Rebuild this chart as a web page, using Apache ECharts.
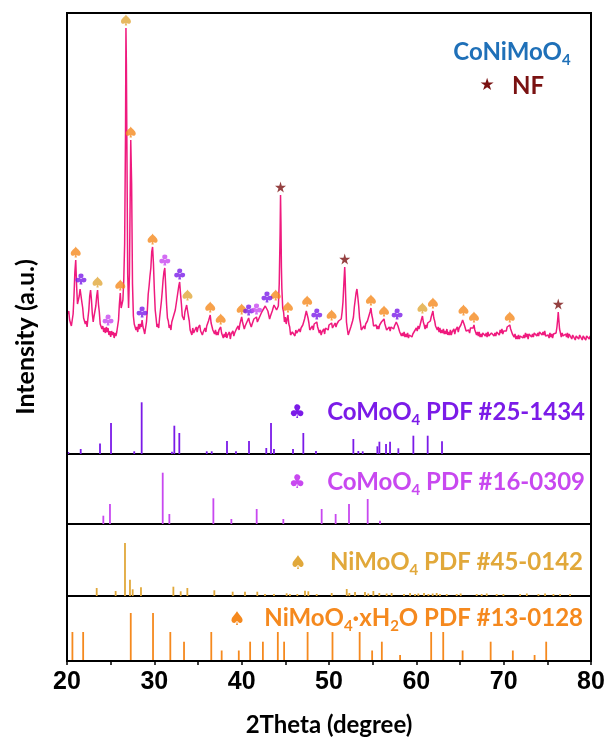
<!DOCTYPE html>
<html><head><meta charset="utf-8">
<script src="https://cdn.jsdelivr.net/npm/echarts@6/dist/echarts.min.js"></script>
<style>html,body{margin:0;padding:0;background:#fff}#c{width:609px;height:744px}</style>
</head><body><div id="c"></div>
<script>
// XRD pattern of CoNiMoO4 on NF: [2theta, intensity a.u.]
const xrdPattern = [
[20.0,76],[20.1,70],[20.2,73],[20.3,64],[20.4,66],[20.5,58],[20.6,64],[20.7,70],[20.8,88],[20.9,112],[21.0,124],[21.1,98],[21.2,80],[21.3,84],[21.4,88],[21.5,95],[21.6,97],[21.7,82],[21.8,76],[21.9,66],[22.0,68],[22.1,60],[22.2,63],[22.3,57],[22.4,66],[22.5,74],[22.6,88],[22.7,94],[22.8,84],[22.9,70],[23.0,62],[23.1,68],[23.2,66],[23.3,78],[23.4,88],[23.5,94],[23.6,80],[23.7,72],[23.8,60],[23.9,62],[24.0,55],[24.1,58],[24.2,52],[24.3,56],[24.4,51],[24.5,57],[24.6,52],[24.7,56],[24.8,49],[24.9,53],[25.0,47],[25.1,53],[25.2,49],[25.3,52],[25.4,46],[25.5,51],[25.6,48],[25.7,52],[25.8,54],[25.9,64],[26.0,80],[26.1,91],[26.2,76],[26.3,74],[26.4,84],[26.5,104],[26.6,140],[26.7,250],[26.75,356],[26.8,320],[26.85,250],[26.95,110],[27.05,76],[27.15,110],[27.25,200],[27.3,244],[27.4,200],[27.5,100],
[27.6,68],[27.7,60],[27.8,58],[27.9,54],[28.0,57],[28.1,52],[28.2,60],[28.3,55],[28.4,60],[28.5,57],[28.6,64],[28.7,57],[28.8,54],[28.9,50],[29.0,56],[29.1,62],[29.2,74],[29.3,90],[29.4,98],[29.5,108],[29.6,116],[29.7,132],[29.8,137],[29.9,120],[30.0,94],[30.1,74],[30.2,66],[30.3,57],[30.4,60],[30.5,56],[30.6,66],[30.7,68],[30.8,82],[30.9,92],[31.0,104],[31.1,112],[31.2,116],[31.3,98],[31.4,80],[31.5,66],[31.6,63],[31.7,56],[31.8,59],[31.9,54],[32.0,62],[32.1,60],[32.2,68],[32.3,66],[32.4,74],[32.5,76],[32.6,86],[32.7,92],[32.8,98],[32.9,102],[33.0,90],[33.1,80],[33.2,68],[33.3,66],[33.4,64],[33.5,72],[33.6,72],[33.7,79],[33.8,81],[33.9,68],[34.0,63],[34.1,54],[34.2,54],[34.3,49],[34.4,56],[34.5,51],[34.6,53],[34.7,49],[34.8,57],[34.9,52],[35.0,56],[35.1,54],[35.2,59],[35.3,53],[35.4,55],[35.5,49],[35.6,52],[35.7,50],[35.8,56],[35.9,52],[36.0,58],[36.1,56],[36.2,63],[36.3,64],[36.4,69],[36.5,61],[36.6,60],[36.7,54],[36.8,56],[36.9,50],[37.0,54],[37.1,49],[37.2,52],[37.3,49],[37.4,54],[37.5,53],[37.6,57],[37.7,51],[37.8,52],[37.9,46],[38.0,50],[38.1,47],[38.2,52],[38.3,46],[38.4,49],[38.5,47],[38.6,52],[38.7,45],[38.8,50],[38.9,49],[39.0,53],[39.1,48],[39.2,51],[39.3,49],[39.4,55],[39.5,53],[39.6,58],[39.7,54],[39.8,60],[39.9,62],[40.0,67],[40.1,62],[40.2,61],[40.3,55],[40.4,58],[40.5,56],[40.6,62],[40.7,61],[40.8,66],[40.9,62],[41.0,63],[41.1,57],[41.2,60],[41.3,59],[41.4,65],[41.5,63],[41.6,67],[41.7,67],[41.8,62],[41.9,64],[42.0,61],[42.1,68],[42.2,66],[42.3,72],[42.4,70],[42.5,75],[42.6,73],[42.7,78],[42.8,76],[42.9,79],[43.0,73],[43.1,71],[43.2,65],[43.3,68],[43.4,67],[43.5,73],[43.6,74],[43.7,79],[43.8,78],[43.9,81],[44.0,74],[44.1,73],[44.2,78],[44.3,100],[44.4,150],[44.45,189],[44.5,160],[44.55,117],[44.6,96],[44.7,76],[44.8,72],[44.9,62],[45.0,67],[45.1,60],[45.2,65],[45.3,69],[45.4,60],[45.5,57],[45.6,49],[45.7,47],[45.8,52],[45.9,50],[46.0,51],[46.1,48],[46.2,54],[46.3,51],[46.4,52],[46.5,49],[46.6,55],[46.7,52],[46.8,56],[46.9,54],[47.0,59],[47.1,58],[47.2,65],[47.3,67],[47.4,73],[47.5,75],[47.6,66],[47.7,61],[47.8,54],[47.9,56],[48.0,53],[48.1,58],[48.2,54],[48.3,60],[48.4,58],[48.5,62],[48.6,62],[48.7,57],[48.8,57],[48.9,51],[49.0,54],[49.1,49],[49.2,52],[49.3,50],[49.4,55],[49.5,50],[49.6,56],[49.7,54],[49.8,56],[49.9,54],[50.0,59],[50.1,57],[50.2,61],[50.3,61],[50.4,56],[50.5,58],[50.6,56],[50.7,61],[50.8,57],[50.9,60],[51.0,58],[51.1,63],[51.2,61],[51.3,65],[51.4,65],[51.5,72],[51.6,82],[51.7,100],[51.8,117],[51.85,106],[51.9,90],[52.0,62],[52.1,55],[52.2,49],[52.3,51],[52.4,50],[52.5,57],[52.6,56],[52.7,63],[52.8,67],[52.9,77],[53.0,84],[53.1,91],[53.2,95],[53.3,87],[53.4,78],[53.5,66],[53.6,61],[53.7,54],[53.8,56],[53.9,53],[54.0,58],[54.1,55],[54.2,60],[54.3,58],[54.4,63],[54.5,63],[54.6,69],[54.7,72],[54.8,76],[54.9,69],[55.0,65],[55.1,58],[55.2,60],[55.3,56],[55.4,59],[55.5,55],[55.6,58],[55.7,55],[55.8,59],[55.9,58],[56.0,62],[56.1,60],[56.2,64],[56.3,65],[56.4,60],[56.5,59],[56.6,54],[56.7,56],[56.8,53],[56.9,57],[57.0,53],[57.1,57],[57.2,55],[57.3,59],[57.4,55],[57.5,58],[57.6,58],[57.7,62],[57.8,62],[57.9,58],[58.0,57],[58.1,52],[58.2,54],[58.3,48],[58.4,51],[58.5,48],[58.6,52],[58.7,47],[58.8,50],[58.9,47],[59.0,51],[59.1,46],[59.2,49],[59.3,47],[59.4,51],[59.5,47],[59.6,50],[59.7,50],[59.8,53],[59.9,51],[60.0,56],[60.1,53],[60.2,58],[60.3,55],[60.4,58],[60.5,59],[60.6,65],[60.7,68],[60.8,62],[60.9,59],[61.0,55],[61.1,59],[61.2,56],[61.3,61],[61.4,59],[61.5,63],[61.6,63],[61.7,67],[61.8,69],[61.9,73],[62.0,66],[62.1,63],[62.2,58],[62.3,60],[62.4,54],[62.5,57],[62.6,52],[62.7,56],[62.8,51],[62.9,54],[63.0,51],[63.1,55],[63.2,50],[63.3,53],[63.4,50],[63.5,55],[63.6,49],[63.7,52],[63.8,49],[63.9,54],[64.0,49],[64.1,52],[64.2,51],[64.3,55],[64.4,50],[64.5,54],[64.6,52],[64.7,57],[64.8,52],[64.9,56],[65.0,55],[65.1,59],[65.2,60],[65.3,64],[65.4,66],[65.5,59],[65.6,57],[65.7,53],[65.8,55],[65.9,51],[66.0,54],[66.1,51],[66.2,56],[66.3,54],[66.4,57],[66.5,56],[66.6,59],[66.7,54],[66.8,53],[66.9,49],[67.0,52],[67.1,48],[67.2,52],[67.3,47],[67.4,50],[67.5,47],[67.6,51],[67.7,49],[67.8,53],[67.9,48],[68.0,51],[68.1,47],[68.2,52],[68.3,48],[68.4,50],[68.5,46],[68.6,51],[68.7,49],[68.8,53],[68.9,48],[69.0,51],[69.1,48],[69.2,52],[69.3,50],[69.4,53],[69.5,49],[69.6,54],[69.7,51],[69.8,55],[69.9,50],[70.0,53],[70.1,51],[70.2,55],[70.3,53],[70.4,57],[70.5,55],[70.6,58],[70.7,59],[70.8,55],[70.9,55],[71.0,50],[71.1,52],[71.2,47],[71.3,50],[71.4,45],[71.5,48],[71.6,45],[71.7,49],[71.8,45],[71.9,48],[72.0,46],[72.1,50],[72.2,46],[72.3,49],[72.4,46],[72.5,51],[72.6,47],[72.7,50],[72.8,45],[72.9,50],[73.0,48],[73.1,52],[73.2,47],[73.3,50],[73.4,47],[73.5,51],[73.6,49],[73.7,53],[73.8,48],[73.9,51],[74.0,48],[74.1,52],[74.2,50],[74.3,54],[74.4,49],[74.5,52],[74.6,49],[74.7,53],[74.8,48],[74.9,50],[75.0,46],[75.1,49],[75.2,46],[75.3,51],[75.4,47],[75.5,50],[75.6,46],[75.7,50],[75.8,48],[75.9,52],[76.0,51],[76.1,57],[76.2,66],[76.25,72],[76.3,66],[76.4,55],[76.5,51],[76.6,47],[76.7,51],[76.8,48],[76.9,50],[77.0,46],[77.1,50],[77.2,47],[77.3,51],[77.4,46],[77.5,50],[77.6,49],[77.7,51],[77.8,45],[77.9,49],[78.0,48],[78.1,50],[78.2,44],[78.3,48],[78.4,46],[78.5,50],[78.6,45],[78.7,49],[78.8,47],[78.9,50],[79.0,44],[79.1,48],[79.2,46],[79.3,49],[79.4,44],[79.5,48],[79.6,46],[79.7,49],[79.8,45],[79.9,48],[80.0,46]
];

// Peak markers [2theta, peak intensity]
const spadeNiMoO4Hydrate = [[21.0,124],[26.1,91],[27.3,244],[29.8,137],[36.4,69],[37.6,57],[40.0,67],[43.9,81],[45.3,69],[47.5,75],[50.3,61],[54.8,76],[56.3,65],[61.9,73],[65.4,66],[66.6,59],[70.7,59]];
const spadeNiMoO4 = [[23.5,94],[26.75,356],[33.8,81],[60.7,68]];
const clubCoMoO4_25 = [[21.6,97],[28.6,64],[32.9,102],[40.8,66],[42.9,79],[48.6,62],[57.8,62]];
const clubCoMoO4_16 = [[24.7,56],[31.2,116],[41.7,67]];
const starNF = [[44.45,189],[51.8,117],[76.25,72]];

// Standard PDF cards: positions (2theta) and relative intensities
const pdf25_1434_pos = [20.15,21.57,23.78,25.04,27.70,28.55,32.02,32.29,32.86,36.00,36.57,38.32,39.35,40.84,42.82,43.36,43.70,45.88,47.06,48.51,52.79,53.36,53.86,55.54,55.77,56.53,56.99,57.94,59.66,61.30,62.94];
const pdf25_1434_int = [2,5,10.5,31,2.7,51.7,2.3,28.3,21,2.7,2.7,13,2.7,13,6,31,5,5,21,3,15,3,2.7,7.7,12.3,10,12.3,5.7,18.3,18.3,12.7];
const pdf16_0309_pos = [24.16,24.92,30.96,31.72,36.76,38.82,41.72,44.77,49.16,50.76,52.29,54.43,55.84];
const pdf16_0309_int = [8.3,20,51.3,10,25.7,5,15,5,15,10,20,25,3.3];
const pdf45_0142_pos = [23.40,25.57,26.64,27.21,27.52,28.47,32.18,33.02,33.78,36.87,38.97,40.38,41.79,42.67,43.70,45.15,45.53,46.37,47.25,47.63,48.59,50.31,52.03,52.33,52.98,54.12,54.50,55.08,55.76,56.60,57.17,58.59,59.28,59.85,60.23,60.88,61.38,61.87,62.33,62.71,63.48,64.62,65.08,66.91,67.48,68.06,69.20,69.97,71.88,72.65,73.98,74.74,75.70,76.46,77.60];
const pdf45_0142_int = [8,5,53,16.3,6.7,8.7,9.3,4.7,8,5.7,4.3,4.3,4.3,2,2,2.7,2,2,5.3,4.7,2,3,7,3,4,4,2.5,5,3,2.5,3,2,3,2,2.5,3,2,2.5,3,2,2,2,2.5,2,2,2.5,2,2,2,2.5,2,2.5,2,2,2];
const pdf13_0128_pos = [20.62,21.85,27.30,29.85,31.83,33.40,36.52,37.71,39.67,40.97,42.43,44.14,44.86,47.55,50.40,53.51,54.94,56.05,58.14,61.70,63.08,65.30,68.51,71.05,73.54,74.87];
const pdf13_0128_int = [29,29,48,48,29,19.3,29,10.5,10.5,19.3,19.3,29,19.3,29,29,29,10.5,19.3,6,29,29,10.5,19.3,10.5,6,19.3];

const xTicks = [20,30,40,50,60,70,80];

const C_ORANGE = '#F5891E', C_GOLD = '#E1A83A', C_PURPLE = '#7B1BE8', C_LILAC = '#C848F0', C_STAR = '#7A1212', C_LINE = '#EF1A7E', C_BLUE = '#1F70B8';
const SPADE = 'path://M50 0 C38 22 0 38 0 64 C0 84 24 92 44 78 L38 100 L62 100 L56 78 C76 92 100 84 100 64 C100 38 62 22 50 0 Z';
const CLUB = 'path://M50 4 A21 21 0 1 1 49.9 4 Z M26 40 A21 21 0 1 1 25.9 40 Z M74 40 A21 21 0 1 1 73.9 40 Z M46 50 L54 50 L62 100 L38 100 Z';
const STAR = 'path://M50 0 L61 35 L98 35 L68 57 L79 91 L50 70 L21 91 L32 57 L2 35 L39 35 Z';

const pair = (p, v) => p.map((x, i) => [x, v[i]]);
function stick(color) {
  return function (params, api) {
    const x = api.value(0), h = api.value(1);
    const a = api.coord([x, 0]), b = api.coord([x, h]);
    return { type: 'line', shape: { x1: a[0], y1: a[1], x2: b[0], y2: b[1] }, style: { stroke: color, lineWidth: 1.8 } };
  };
}

const L = 67, R = 18;
const grids = [
  { left: L, right: R, top: 13, height: 371 },
  { left: L, right: R, top: 384, height: 70 },
  { left: L, right: R, top: 454, height: 70 },
  { left: L, right: R, top: 524, height: 72 },
  { left: L, right: R, top: 596, height: 65 }
];
const yMax = [371, 70, 70, 72, 65];
const xAxes = grids.map((g, i) => ({
  gridIndex: i, type: 'value', min: 20, max: 80, interval: 5,
  splitLine: { show: false },
  axisLine: { show: i > 0, onZero: false, lineStyle: { color: '#000', width: 2 } },
  axisTick: { show: i === 4, length: 4, lineStyle: { color: '#000', width: 1.5 } },
  axisLabel: {
    show: i === 4, margin: 9, color: '#000', fontSize: 25, fontWeight: 'bold', fontFamily: 'Liberation Sans',
    formatter: v => (xTicks.indexOf(v) >= 0 ? String(v) : '')
  }
}));
const yAxes = grids.map((g, i) => ({ gridIndex: i, type: 'value', min: 0, max: yMax[i], show: false }));

function markers(data, sym, size, color) {
  return { type: 'scatter', xAxisIndex: 0, yAxisIndex: 0, data: data, symbol: sym, symbolSize: size,
    symbolOffset: [0, -8], itemStyle: { color: color }, z: 5, silent: true };
}

const subRich = (color, fs) => ({
  m: { fontSize: fs, fontWeight: 'bold', fill: color, fontFamily: 'Lato', lineHeight: 28, verticalAlign: 'top' },
  s: { fontSize: Math.round(fs * 0.62), fontWeight: 'bold', fill: color, fontFamily: 'Lato', verticalAlign: 'bottom' }
});
function label(text, color, x, y, fs) {
  return { type: 'text', x: x, y: y + 2, style: { text: text, align: 'right', verticalAlign: 'middle', rich: subRich(color, fs) }, z: 10 };
}
function glyph(ch, color, x, y, fs) {
  return { type: 'text', x: x, y: y, style: { text: ch, align: 'center', verticalAlign: 'middle', fontSize: fs, fontFamily: 'DejaVu Sans', fill: color }, z: 10 };
}

const option = {
  animation: false,
  backgroundColor: '#fff',
  grid: grids, xAxis: xAxes, yAxis: yAxes,
  series: [
    { type: 'line', xAxisIndex: 0, yAxisIndex: 0, data: xrdPattern, showSymbol: false, symbol: 'none',
      lineStyle: { color: C_LINE, width: 1.5 }, z: 3 },
    markers(spadeNiMoO4Hydrate, SPADE, [10, 11], C_ORANGE),
    markers(spadeNiMoO4, SPADE, [10, 11], C_GOLD),
    markers(clubCoMoO4_25, CLUB, [11, 11], C_PURPLE),
    markers(clubCoMoO4_16, CLUB, [11, 11], C_LILAC),
    markers(starNF, STAR, [11, 11], C_STAR),
    { type: 'custom', xAxisIndex: 1, yAxisIndex: 1, data: pair(pdf25_1434_pos, pdf25_1434_int), renderItem: stick(C_PURPLE), encode: { x: 0, y: 1 } },
    { type: 'custom', xAxisIndex: 2, yAxisIndex: 2, data: pair(pdf16_0309_pos, pdf16_0309_int), renderItem: stick(C_LILAC), encode: { x: 0, y: 1 } },
    { type: 'custom', xAxisIndex: 3, yAxisIndex: 3, data: pair(pdf45_0142_pos, pdf45_0142_int), renderItem: stick(C_GOLD), encode: { x: 0, y: 1 } },
    { type: 'custom', xAxisIndex: 4, yAxisIndex: 4, data: pair(pdf13_0128_pos, pdf13_0128_int), renderItem: stick(C_ORANGE), encode: { x: 0, y: 1 } }
  ],
  graphic: [
    { type: 'rect', shape: { x: 67, y: 13, width: 524, height: 648 }, style: { fill: 'none', stroke: '#000', lineWidth: 2 }, z: 20, silent: true },
    { type: 'text', x: 512, y: 54, style: { text: '{m|CoNiMoO}{s|4}', align: 'center', verticalAlign: 'middle', rich: subRich(C_BLUE, 24) }, z: 10 },
    glyph('★', C_STAR, 487, 86, 17),
    { type: 'text', x: 528, y: 86, style: { text: 'NF', align: 'center', verticalAlign: 'middle', fontSize: 24, fontWeight: 'bold', fontFamily: 'Lato', fill: C_STAR }, z: 10 },
    glyph('♣', C_PURPLE, 297, 413, 19),
    label('{m|CoMoO}{s|4}{m| PDF #25-1434}', C_PURPLE, 585, 412, 24),
    glyph('♣', C_LILAC, 297, 483, 19),
    label('{m|CoMoO}{s|4}{m| PDF #16-0309}', C_LILAC, 585, 482, 24),
    glyph('♠', C_GOLD, 298, 564, 19),
    label('{m|NiMoO}{s|4}{m| PDF #45-0142}', C_GOLD, 583, 562, 24),
    glyph('♠', C_ORANGE, 237, 620, 19),
    label('{m|NiMoO}{s|4}{m|·xH}{s|2}{m|O PDF #13-0128}', C_ORANGE, 583, 618, 24),
    { type: 'text', x: 329, y: 725, style: { text: '2Theta (degree)', align: 'center', verticalAlign: 'middle', fontSize: 24, fontWeight: 'bold', fontFamily: 'Lato', fill: '#000' } },
    { type: 'text', x: 26, y: 337, rotation: Math.PI / 2, style: { text: 'Intensity (a.u.)', align: 'center', verticalAlign: 'middle', fontSize: 25, fontWeight: 'bold', fontFamily: 'Lato', fill: '#000' } }
  ]
};
echarts.init(document.getElementById('c'), null, { renderer: 'canvas' }).setOption(option);
</script>
</body></html>
